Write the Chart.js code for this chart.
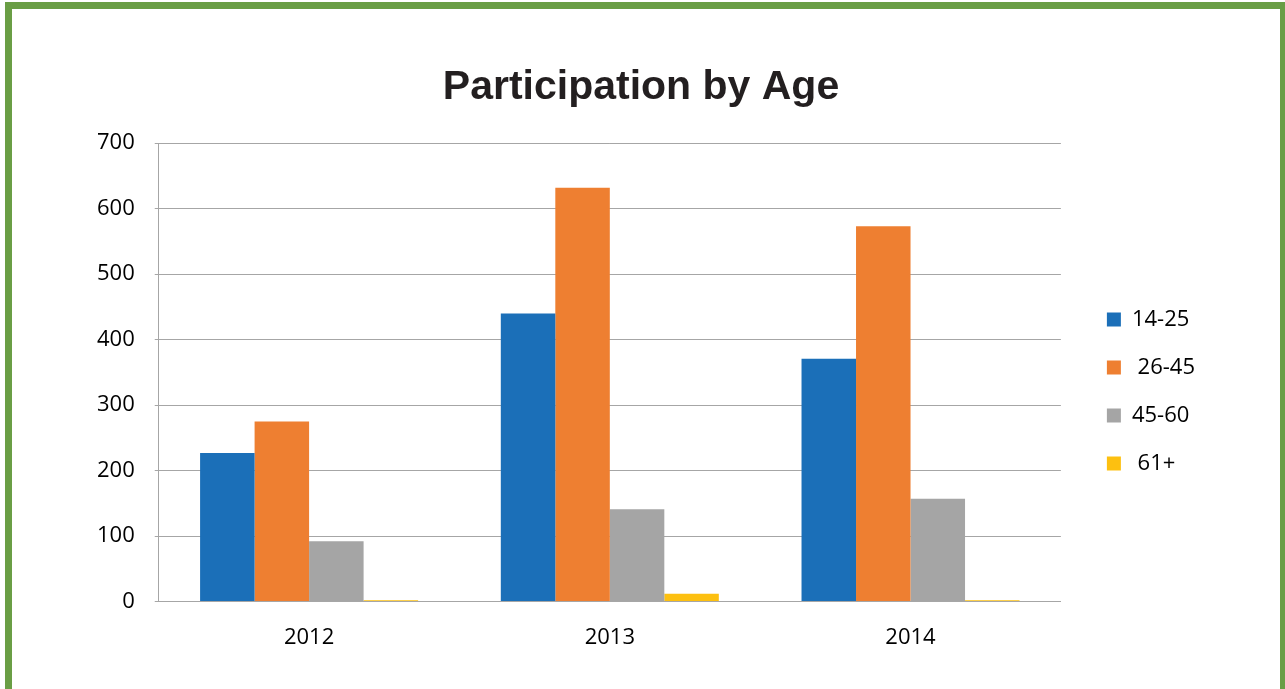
<!DOCTYPE html>
<html>
<head>
<meta charset="utf-8">
<script src="https://cdn.jsdelivr.net/npm/chart.js@4"></script>
<style>
  body { margin: 0; background: #fff; overflow: hidden; }
  #frame {
    position: absolute; left: 5px; top: 2px; width: 1268px; height: 720px;
    border: 7px solid #6a9e45; border-bottom: none;
  }
  #wrap { position: absolute; left: 0; top: 0; width: 1285px; height: 689px; }
</style>
</head>
<body>
<div id="frame"></div>
<div id="wrap"><canvas id="barChart"></canvas></div>
<script>
// Chart data
const years = ["2012", "2013", "2014"];
const ageGroups = ["14-25", " 26-45", "45-60", " 61+"];
const age14to25 = [227, 440, 371];
const age26to45 = [275, 632, 573];
const age45to60 = [92, 141, 157];
const age61plus = [2, 12, 2];
const yTicks = [0, 100, 200, 300, 400, 500, 600, 700];

const colors = ["#1b6fb8", "#ee7f31", "#a5a5a5", "#fdc010"];
const seriesValues = [age14to25, age26to45, age45to60, age61plus];

const datasets = ageGroups.map((name, i) => ({
  label: name,
  data: seriesValues[i],
  backgroundColor: colors[i],
  borderWidth: 0,
  categoryPercentage: 0.725,
  barPercentage: 1.0,
}));

const font = { family: "'Open Sans', sans-serif", size: 22 };

const ctx = document.getElementById("barChart").getContext("2d");
new Chart(ctx, {
  type: "bar",
  data: { labels: years, datasets: datasets },
  options: {
    responsive: true,
    maintainAspectRatio: false,
    animation: false,
    layout: { padding: { left: 77, right: 80, top: 63, bottom: 23 } },
    plugins: {
      title: {
        display: true,
        text: "Participation by Age",
        color: "#231f20",
        font: { family: "'Liberation Sans', Arial, sans-serif", size: 41, weight: "bold" },
        padding: { top: 0, bottom: 31 },
      },
      legend: {
        position: "right",
        title: { display: true, text: " ", font: { size: 10 }, padding: { top: 21, bottom: 21 } },
        labels: {
          color: "#000",
          font: font,
          boxWidth: 14,
          boxHeight: 14,
          padding: 26,
        },
      },
      tooltip: { enabled: false },
    },
    scales: {
      x: {
        grid: { display: false },
        border: { display: true, color: "#a6a6a6", width: 1 },
        ticks: { color: "#000", font: font, padding: 15 },
      },
      y: {
        min: 0,
        max: 700,
        afterBuildTicks: (scale) => {
          scale.ticks = yTicks.map((v) => ({ value: v }));
        },
        grid: { color: "#a6a6a6", lineWidth: 1, tickLength: 4 },
        border: { display: true, color: "#a6a6a6", width: 1 },
        ticks: { color: "#000", font: font, padding: 20 },
      },
      // empty right-hand scale, only used to leave a gap before the legend
      gap: {
        position: "right",
        display: true,
        grid: { display: false },
        border: { display: false },
        ticks: { display: false },
        afterFit: (scale) => { scale.width = 20; },
      },
    },
  },
});
</script>
</body>
</html>
